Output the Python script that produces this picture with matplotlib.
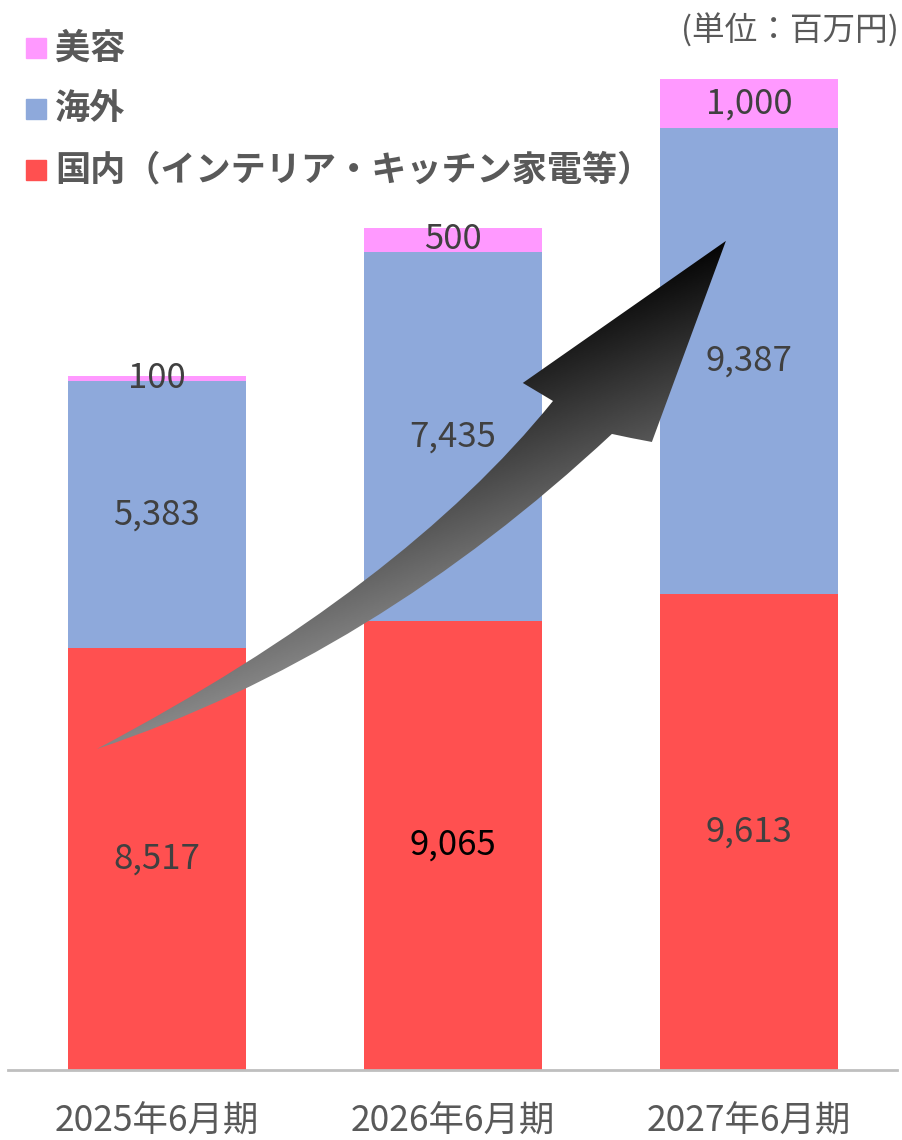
import numpy as np
import matplotlib.pyplot as plt
from matplotlib.path import Path
from matplotlib.patches import PathPatch, Rectangle
from matplotlib.colors import LinearSegmentedColormap

plt.rcParams['font.family'] = ['Noto Sans CJK JP', 'DejaVu Sans']

# data
periods = ["2025年6月期", "2026年6月期", "2027年6月期"]
domestic = [8517, 9065, 9613]
overseas = [5383, 7435, 9387]
beauty = [100, 500, 1000]
series_names = ["美容", "海外", "国内（インテリア・キッチン家電等）"]

c_dom = "#FF5050"
c_ovs = "#8EA9DB"
c_bty = "#FF99FF"
txt = "#595959"

W, H = 903, 1140
fig = plt.figure(figsize=(W / 100, H / 100), dpi=100)
ax = fig.add_axes([8 / W, 70 / H, 889 / W, 1070 / H])
ax.set_xlim(-0.503, 2.5)
ax.set_ylim(0, 21593)

x = np.arange(len(periods))
dom = np.array(domestic)
ovs = np.array(overseas)
bty = np.array(beauty)
ax.bar(x, dom, 0.6, color=c_dom)
ax.bar(x, ovs, 0.6, bottom=dom, color=c_ovs)
ax.bar(x, bty, 0.6, bottom=dom + ovs, color=c_bty)

# segment labels
for i in range(len(x)):
    ax.text(x[i], dom[i] / 2, f"{dom[i]:,}", ha="center", va="center",
            fontsize=25, color="black" if i == 1 else "#404040")
    ax.text(x[i], dom[i] + ovs[i] / 2, f"{ovs[i]:,}", ha="center", va="center",
            fontsize=25, color="#404040")
    ax.text(x[i], dom[i] + ovs[i] + bty[i] / 2, f"{bty[i]:,}", ha="center",
            va="center", fontsize=25, color="#404040")

for s in ["left", "right", "top"]:
    ax.spines[s].set_visible(False)
ax.spines["bottom"].set_color("#BFBFBF")
ax.spines["bottom"].set_linewidth(2)
ax.set_yticks([])
ax.set_xticks(x)
ax.set_xticklabels(periods, fontsize=25.5, color=txt)
ax.tick_params(axis="x", length=0, pad=24)

# curved gradient arrow (decoration), in data units
verts = [
    (-0.203, 6478), (0.831, 9748), (1.338, 13501),
    (1.236, 13865), (1.922, 16731), (1.672, 12674),
    (1.601, 12755), (1.537, 12836),
    (0.731, 8345), (-0.203, 6478), (-0.203, 6478),
]
codes = [Path.MOVETO, Path.CURVE3, Path.CURVE3,
         Path.LINETO, Path.LINETO, Path.LINETO,
         Path.LINETO, Path.LINETO,
         Path.CURVE3, Path.CURVE3, Path.CLOSEPOLY]
arrow = PathPatch(Path(verts, codes), facecolor="none", edgecolor="none")
ax.add_patch(arrow)

gx = np.linspace(-0.3, 2.0, 300)
gy = np.linspace(6000, 17500, 300)
GX, GY = np.meshgrid(gx, gy)
disp = ax.transData.transform(np.column_stack([GX.ravel(), GY.ravel()]))
px = disp[:, 0]
py = H - disp[:, 1]
g = (0.35 * px + 0.94 * py).reshape(GX.shape)
g0 = 0.35 * 726 + 0.94 * 241
g1 = 0.35 * 97 + 0.94 * 749
g = np.clip((g - g0) / (g1 - g0), 0, 1)
cmap = LinearSegmentedColormap.from_list("ar", ["#050505", "#868686"])
im = ax.imshow(g, extent=[gx[0], gx[-1], gy[0], gy[-1]], origin="lower",
               cmap=cmap, aspect="auto", zorder=3, vmin=0, vmax=1)
im.set_clip_path(arrow)
ax.set_xlim(-0.503, 2.5)
ax.set_ylim(0, 21593)

# legend
colors = [c_bty, c_ovs, c_dom]
rows_y = [48, 109, 170]
for name, col, yy in zip(series_names, colors, rows_y):
    fig.patches.append(Rectangle((26 / W, 1 - (yy + 10) / H), 20 / W, 20 / H,
                                 transform=fig.transFigure, color=col))
    fig.text(55 / W, 1 - yy / H, name, fontsize=25.3, fontweight="bold",
             color=txt, va="center", ha="left")

fig.text(899 / W, 1 - 31 / H, "(単位：百万円)", fontsize=23.5, color=txt,
         ha="right", va="center")

fig.savefig("out.png", dpi=100)
